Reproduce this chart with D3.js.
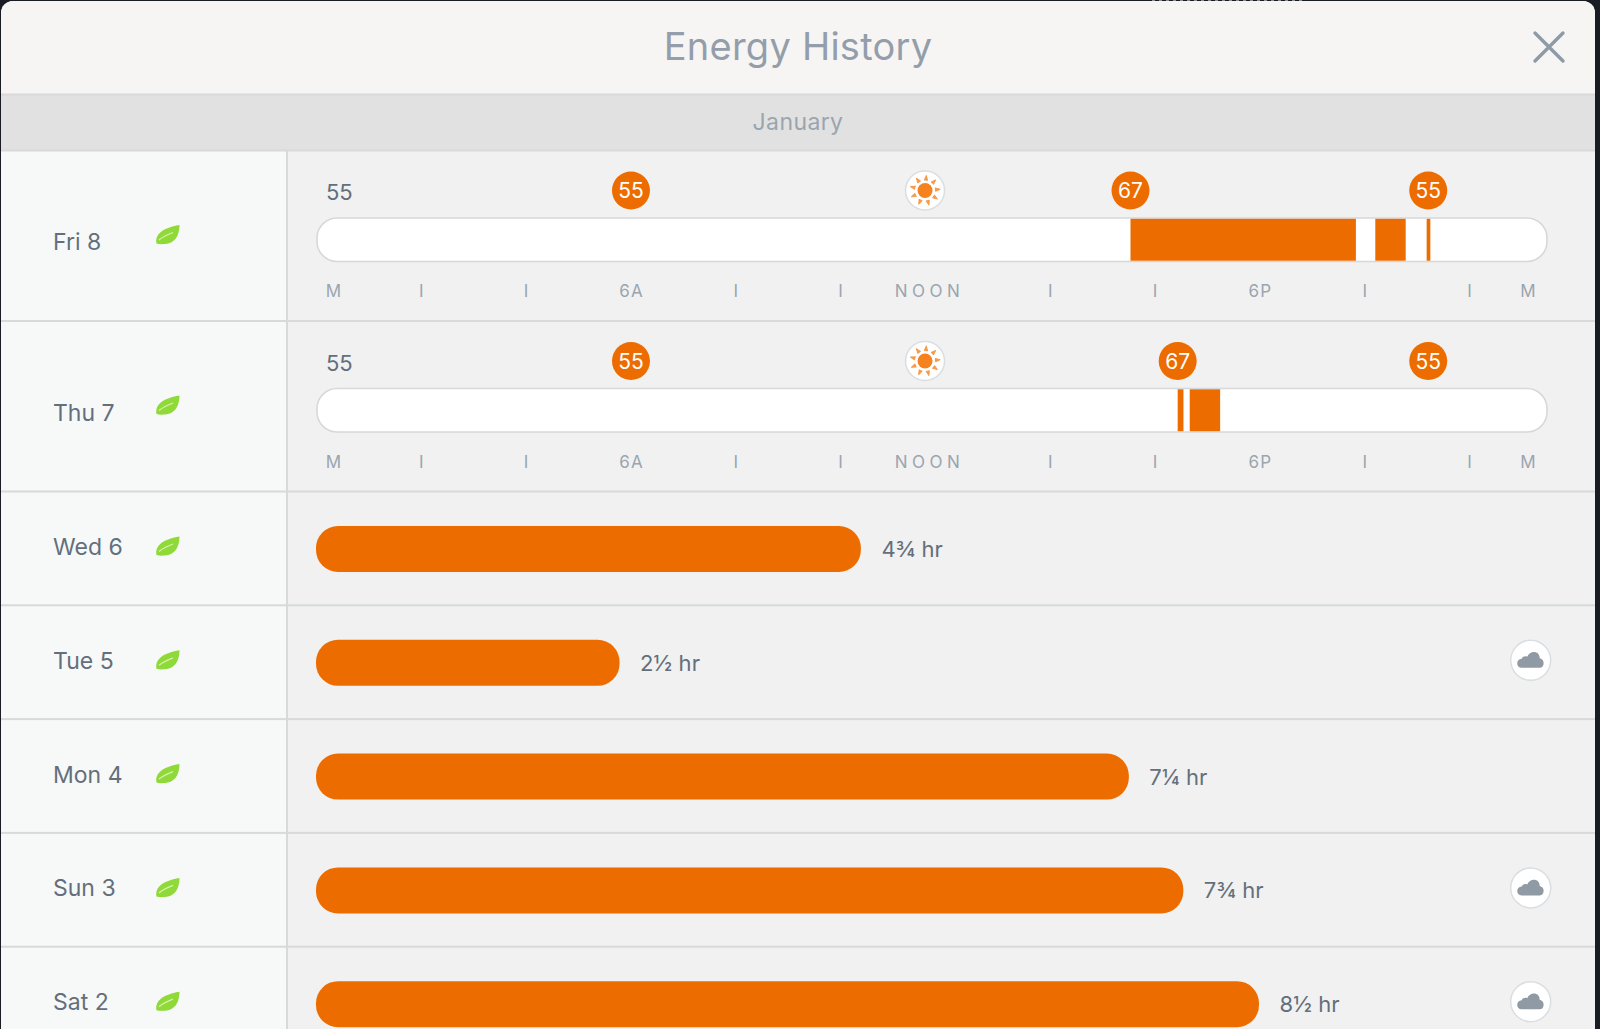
<!DOCTYPE html>
<html><head><meta charset="utf-8">
<style>html,body{margin:0;padding:0;background:#1a1c24;overflow:hidden}svg{display:block}
text{font-family:Inter,"Noto Sans",sans-serif}</style>
<script src="https://cdnjs.cloudflare.com/ajax/libs/d3/7.8.5/d3.min.js"></script>
</head><body><svg id="c" width="1600" height="1029"></svg>
<script>
// ---- data
const title = "Energy History";
const month = "January";
const timelineDays = ["Fri 8", "Thu 7"];
const startSetpoints = ["55", "55"];
const setpointHours = [[5.99, 15.52, 21.2], [5.99, 16.42, 21.2]];
const setpointLabels = [["55", "67", "55"], ["55", "67", "55"]];
const sunHours = [11.6, 11.6];
const heatSegments = [[[15.52, 19.82], [20.19, 20.77], [21.17, 21.24]], [[16.42, 16.53], [16.65, 17.23]]];
const hourTicks = [0, 2, 4, 6, 8, 10, 12, 14, 16, 18, 20, 22, 24];
const hourTickLabels = ["M", "I", "I", "6A", "I", "I", "NOON", "I", "I", "6P", "I", "I", "M"];
const barDays = ["Wed 6", "Tue 5", "Mon 4", "Sun 3", "Sat 2"];
const barHours = [4.9, 2.73, 7.31, 7.8, 8.48];
const barLabels = ["4¾ hr", "2½ hr", "7¼ hr", "7¾ hr", "8½ hr"];
const barCloudy = [false, true, false, true, true];

// ---- palette and frame
const orange = "#ed6c00", line = "#d8d9da", textDark = "#636f7c", textSoft = "#9aa5af";
const L = 1, R = 1595, split = 287;
const svg = d3.select("#c");
svg.append("defs").append("clipPath").attr("id", "win").append("path")
  .attr("d", "M1,1029V13a12,12 0 0 1 12,-12H1583a12,12 0 0 1 12,12V1029Z");
svg.append("rect").attr("width", 1600).attr("height", 1029).attr("fill", "#1a1c24");
svg.append("line").attr("x1", 1152).attr("x2", 1302).attr("y1", .5).attr("y2", .5)
  .attr("stroke", "#8b8d92").attr("stroke-dasharray", "3 4");
const g = svg.append("g").attr("clip-path", "url(#win)");

// scales
const xTime = d3.scaleLinear().domain([0, 24]).range([317, 1575]);
const xDur = d3.scaleLinear().domain([0, 10]).range([316, 1428]);
const yBarRow = d3.scaleBand().domain(barDays).range([491, 491 + 113.8 * barDays.length]);
const yLineRow = d3.scaleBand().domain(timelineDays).range([150, 491]);
const rowTops = [...timelineDays.map(d => yLineRow(d)), ...barDays.map(d => yBarRow(d))];

// backgrounds
g.append("rect").attr("x", L).attr("y", 0).attr("width", R - L).attr("height", 1029).attr("fill", "#f1f1f1");
g.append("rect").attr("x", L).attr("y", 150).attr("width", split - L).attr("height", 879).attr("fill", "#f7f9f8");
g.append("rect").attr("x", L).attr("y", 0).attr("width", R - L).attr("height", 94.5).attr("fill", "#f6f5f3");
g.append("rect").attr("x", L).attr("y", 94.5).attr("width", R - L).attr("height", 56).attr("fill", "#e1e1e1");
g.selectAll(".hl").data([94.5, 150.5]).join("rect").attr("x", L).attr("width", R - L).attr("y", d => d - 1).attr("height", 2).attr("fill", line);
g.selectAll(".rl").data(rowTops.slice(1)).join("rect").attr("x", L).attr("width", R - L).attr("y", d => d - .5).attr("height", 2).attr("fill", line);
g.append("rect").attr("x", split - 1).attr("y", 150).attr("width", 2).attr("height", 879).attr("fill", line);

// header
g.append("text").attr("x", 798).attr("y", 60).attr("text-anchor", "middle").attr("font-size", 38).attr("letter-spacing", .25)
  .attr("fill", "#939eaa").text(title);
g.append("path").attr("d", "M1535,33L1563,61M1563,33L1535,61").attr("stroke", "#8e9aa6").attr("stroke-width", 3.4).attr("stroke-linecap", "round");
g.append("text").attr("x", 798).attr("y", 130).attr("text-anchor", "middle").attr("font-size", 23).attr("letter-spacing", .4)
  .attr("fill", textSoft).text(month);

// icons
function leaf(sel, x, y) {
  const l = sel.append("g").attr("transform", `translate(${x},${y})`);
  l.append("path").attr("d", "M-11.5,9C-13,0 -6,-6.5 11.5,-9.5C11.5,2 6,9 -3,9.5C-6,9.7 -9,9.8 -11.5,9Z").attr("fill", "#8fd938");
  l.append("path").attr("d", "M-9,5.5C-4,1.5 1,-.5 5,-2").attr("fill", "none").attr("stroke", "#d3f2aa").attr("stroke-width", 1.3);
}
function sun(sel, x, y) {
  const s = sel.append("g").attr("transform", `translate(${x},${y})`);
  s.append("circle").attr("r", 19.5).attr("fill", "#fff").attr("stroke", "#d9dee2").attr("stroke-width", 1.5);
  s.append("circle").attr("r", 7.5).attr("fill", "#f5821f");
  s.selectAll("path").data(d3.range(9)).join("path")
    .attr("transform", d => `rotate(${d * 40 + 5})`)
    .attr("d", "M-1.6,-10.5L1.6,-10.5L0,-15Z").attr("fill", "#f79a4a").attr("stroke", "#f79a4a").attr("stroke-width", 1).attr("stroke-linejoin", "round");
}
function cloud(sel, x, y) {
  const c = sel.append("g").attr("transform", `translate(${x},${y})`);
  c.append("circle").attr("r", 20).attr("fill", "#fff").attr("stroke", "#d9dee2").attr("stroke-width", 1.5);
  c.append("path").attr("d", "M-9,7.5C-15,7.5 -15,-1 -9,-1.5C-8,-4 -5,-4.5 -3.5,-3.5C-1,-10 9,-10 9,-2C14.5,-1 14,7.5 9,7.5Z").attr("fill", "#8f9aa4");
}

// day labels and leaves
const dayLabel = (sel, day, top, labelY, leafY) => {
  sel.append("text").attr("x", 53).attr("y", top + labelY).attr("font-size", 23).attr("fill", textDark).text(day);
  leaf(sel, 168, top + leafY);
};

// timeline rows
timelineDays.forEach((day, i) => {
  const top = yLineRow(day), row = g.append("g");
  dayLabel(row, day, top, 100, 84.5);
  row.append("text").attr("x", 326).attr("y", top + 50).attr("font-size", 22).attr("fill", textDark).text(startSetpoints[i]);
  const px = 317, pw = 1230, py = top + 68, ph = 43.5;
  row.append("rect").attr("x", px).attr("y", py).attr("width", pw).attr("height", ph).attr("rx", 20).attr("fill", "#fff").attr("stroke", "#d6d8da").attr("stroke-width", 1.6);
  row.selectAll(".seg").data(heatSegments[i]).join("rect")
    .attr("x", d => xTime(d[0])).attr("width", d => xTime(d[1]) - xTime(d[0]))
    .attr("y", py + .8).attr("height", ph - 1.6).attr("fill", orange);
  const marks = row.selectAll(".mark").data(setpointHours[i]).join("g")
    .attr("transform", d => `translate(${xTime(d)},${top + 40.5})`);
  marks.append("circle").attr("r", 19).attr("fill", orange);
  marks.append("text").attr("text-anchor", "middle").attr("y", 7.5).attr("font-size", 21).attr("fill", "#fff").text((d, j) => setpointLabels[i][j]);
  sun(row, xTime(sunHours[i]), top + 40.5);
  // tick labels sit on the hour axis; the midnight labels and NOON are placed as in the source
  row.selectAll(".tk").data(hourTicks).join("text")
    .attr("x", (d, j) => j === 0 ? 334 : j === 12 ? 1528.5 : hourTickLabels[j] === "NOON" ? 929.5 : xTime(d))
    .attr("y", top + 147).attr("text-anchor", "middle").attr("font-size", 17).attr("fill", textSoft)
    .attr("letter-spacing", (d, j) => hourTickLabels[j] === "NOON" ? 4.5 : 1.2)
    .text((d, j) => hourTickLabels[j]);
});

// duration rows
barDays.forEach((day, i) => {
  const top = yBarRow(day), row = g.append("g");
  dayLabel(row, day, top, 64, 55);
  row.append("rect").attr("x", xDur(0)).attr("y", top + 35).attr("width", xDur(barHours[i]) - xDur(0)).attr("height", 46).attr("rx", 22).attr("fill", orange);
  row.append("text").attr("x", xDur(barHours[i]) + 20.5).attr("y", top + 66).attr("font-size", 22).attr("letter-spacing", .1).attr("fill", textDark).text(barLabels[i]);
  if (barCloudy[i]) cloud(row, 1530.7, top + 55.5);
});
</script></body></html>
